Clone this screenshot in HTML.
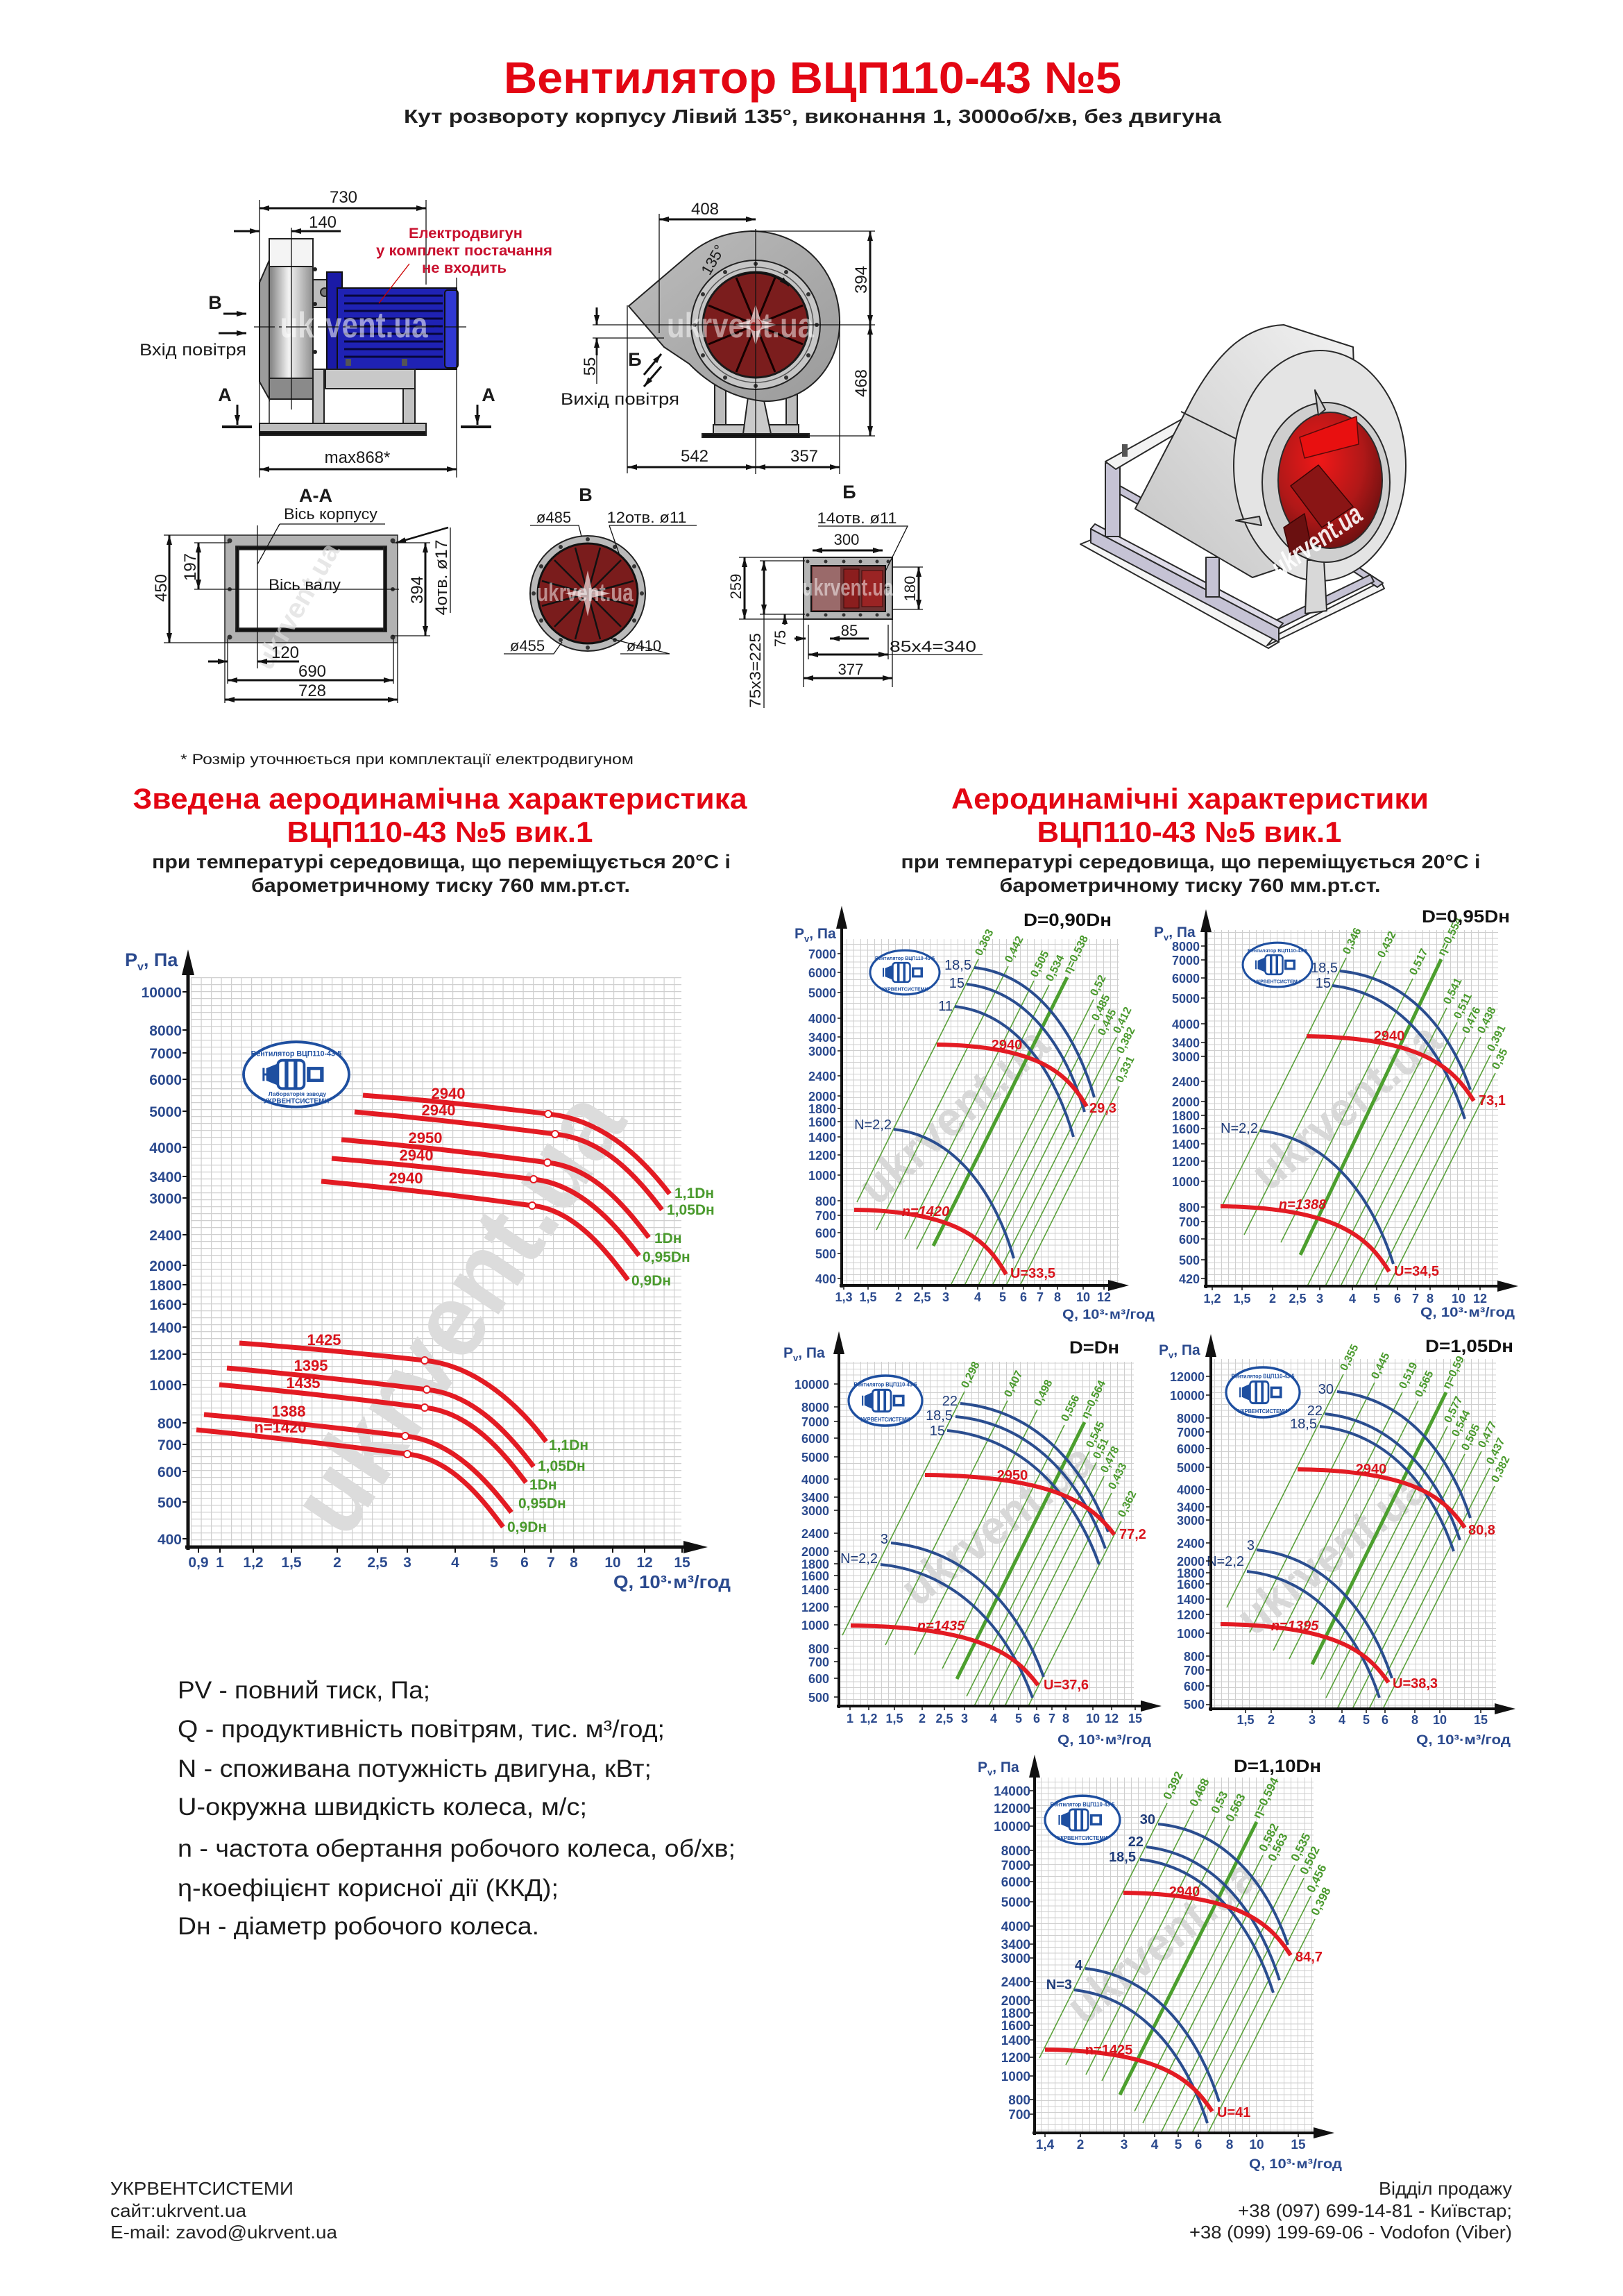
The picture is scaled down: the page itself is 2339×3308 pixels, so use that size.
<!DOCTYPE html>
<html><head><meta charset="utf-8"><title>Вентилятор ВЦП110-43 №5</title>
<style>html,body{margin:0;padding:0;background:#fff}svg{display:block}</style></head>
<body>
<svg xmlns="http://www.w3.org/2000/svg" width="2339" height="3308" viewBox="0 0 2339 3308" font-family="'Liberation Sans', Arial, sans-serif">
<defs>
<marker id="a" viewBox="0 0 14 8" refX="14" refY="4" markerWidth="14" markerHeight="8" markerUnits="userSpaceOnUse" orient="auto-start-reverse"><path d="M0,0L14,4L0,8Z" fill="#111"/></marker>
<pattern id="gB" x="275" y="1408" width="14.5" height="10" patternUnits="userSpaceOnUse"><path d="M0.6,0V10M0,0.6H14.5" stroke="#cfcfcf" stroke-width="1.2" fill="none"/></pattern>
<pattern id="gS" width="10" height="8.5" patternUnits="userSpaceOnUse"><path d="M0.5,0V8.5M0,0.5H10" stroke="#cfcfcf" stroke-width="1" fill="none"/></pattern>
<linearGradient id="gDrum" x1="0" x2="1" y1="0" y2="0"><stop offset="0" stop-color="#7d7d7d"/><stop offset="0.45" stop-color="#f4f4f4"/><stop offset="1" stop-color="#8f8f8f"/></linearGradient>
<linearGradient id="gHous" x1="0" x2="1" y1="0" y2="1"><stop offset="0" stop-color="#bdbdbd"/><stop offset="1" stop-color="#9a9a9a"/></linearGradient>
<linearGradient id="gBand" x1="0" x2="1" y1="1" y2="0"><stop offset="0" stop-color="#c4c4c4"/><stop offset="1" stop-color="#f2f2f2"/></linearGradient>
<radialGradient id="gRed" cx="0.4" cy="0.35" r="0.7"><stop offset="0" stop-color="#f01818"/><stop offset="0.6" stop-color="#b01818"/><stop offset="1" stop-color="#6a1010"/></radialGradient>
</defs>

<!-- ================= HEADER ================= -->
<text x="1171" y="134" font-size="64" font-weight="bold" fill="#e30613" text-anchor="middle" textLength="890" lengthAdjust="spacingAndGlyphs">Вентилятор ВЦП110-43 №5</text>
<text x="1171" y="177" font-size="28" font-weight="bold" fill="#1f1f1f" text-anchor="middle" textLength="1178" lengthAdjust="spacingAndGlyphs">Кут розвороту корпусу Лівий 135°, виконання 1, 3000об/хв, без двигуна</text>

<!-- ================= SIDE VIEW ================= -->
<g stroke="#222" stroke-width="2">
<rect x="388" y="575" width="63" height="35" fill="#fff" stroke-width="1.5"/>
<rect x="388" y="344" width="63" height="40" fill="#f4f4f4"/>
<rect x="388" y="384" width="63" height="161" fill="url(#gDrum)"/>
<rect x="388" y="545" width="63" height="30" fill="#8a8a8a"/>
<polygon points="374,407 388,375 388,575 374,550" fill="#9c9c9c"/>
<rect x="451" y="403" width="34" height="40" fill="#bdbdbd"/>
<circle cx="468" cy="421" r="6" fill="#777"/>
<rect x="471" y="392" width="22" height="140" fill="#1a1aa6" stroke="#111"/>
<rect x="486" y="415" width="172" height="117" fill="#1f22b4" stroke="#111"/>
<rect x="641" y="418" width="19" height="112" rx="4" fill="#3038d2" stroke="#111"/>
<rect x="469" y="532" width="129" height="28" fill="#c8c8c8"/>
<rect x="451" y="532" width="16" height="78" fill="#c2c2c2"/>
<rect x="581" y="560" width="17" height="50" fill="#c2c2c2"/>
<rect x="374" y="610" width="240" height="12" fill="#bdbdbd"/>
<rect x="374" y="622" width="240" height="5" fill="#111"/>
</g>
<path d="M496,426H638M496,437H638M496,448H638M496,459H638M496,470H638M496,481H638M496,492H638M496,503H638M496,514H638" stroke="#07073a" stroke-width="3"/>
<circle cx="454" cy="388" r="3" fill="#222"/><circle cx="454" cy="438" r="3" fill="#222"/><circle cx="454" cy="507" r="3" fill="#222"/>
<rect x="498" y="517" width="8" height="10" fill="#555"/><rect x="579" y="517" width="8" height="10" fill="#555"/>
<text x="510" y="486" font-size="52" font-weight="bold" fill="#fff" fill-opacity="0.55" text-anchor="middle" textLength="213" lengthAdjust="spacingAndGlyphs">ukrvent.ua</text>
<g stroke="#111" stroke-width="1.3" fill="none">
<path d="M374,288V688M614,288V410M658,400V688M420,328V590"/>
<path d="M366,471H678" stroke-dasharray="30,6,4,6"/>
<path d="M590,380L546,437" stroke="#c00"/>
</g>
<g stroke="#111" stroke-width="3" fill="none">
<path d="M374,300H614" marker-start="url(#a)" marker-end="url(#a)"/>
<path d="M337,333H374" marker-end="url(#a)"/><path d="M491,333H420" marker-end="url(#a)"/>
<path d="M374,676H658" marker-start="url(#a)" marker-end="url(#a)"/>
<path d="M322,452H355" marker-end="url(#a)"/><path d="M315,480H355" marker-end="url(#a)"/>
<path d="M342,583V612" marker-end="url(#a)"/><path d="M688,583V612" marker-end="url(#a)"/>
<path d="M320,615H363M664,615H708" stroke-width="4"/>
</g>
<g font-size="24" fill="#1a1a1a" text-anchor="middle">
<text x="495" y="292">730</text>
<text x="465" y="328">140</text>
<text x="515" y="667">max868*</text>
<text x="201" y="512" text-anchor="start" textLength="154" lengthAdjust="spacingAndGlyphs">Вхід повітря</text>
<text x="310" y="445" font-weight="bold" font-size="27">В</text>
<text x="324" y="578" font-weight="bold" font-size="27">А</text>
<text x="704" y="578" font-weight="bold" font-size="27">А</text>
</g>
<g font-size="21" font-weight="bold" fill="#c8102e" text-anchor="middle">
<text x="671" y="343" textLength="164" lengthAdjust="spacingAndGlyphs">Електродвигун</text>
<text x="669" y="368" textLength="254" lengthAdjust="spacingAndGlyphs">у комплект постачання</text>
<text x="669" y="393" textLength="122" lengthAdjust="spacingAndGlyphs">не входить</text>
</g>

<!-- ================= FRONT VIEW ================= -->
<g stroke="#222" stroke-width="2">
<rect x="1030" y="550" width="16" height="62" fill="#bcbcbc"/>
<rect x="1133" y="550" width="16" height="62" fill="#bcbcbc"/>
<rect x="1028" y="612" width="123" height="13" fill="#c8c8c8"/>
<rect x="1012" y="625" width="154" height="5" fill="#111"/>
<polygon points="1078,572 1100,572 1111,625 1071,625" fill="#cacaca"/>
<path d="M906,441 L994,366 Q1030,335 1082,333 C1160,333 1212,395 1210,468 C1208,532 1160,580 1100,578 Q1040,572 993,524 L957,500 Z" fill="url(#gHous)"/>
<circle cx="1089" cy="468" r="93" fill="#c6c6c6"/>
<circle cx="1089" cy="468" r="83" fill="none" stroke="#555" stroke-width="1.5"/>
<circle cx="1089" cy="468" r="76" fill="#7b1d1d" stroke="#1a1a1a" stroke-width="3"/>
</g>
<g fill="#333"><circle cx="1177" cy="468" r="3"/><circle cx="1165" cy="512" r="3"/><circle cx="1133" cy="544" r="3"/><circle cx="1089" cy="556" r="3"/><circle cx="1045" cy="544" r="3"/><circle cx="1013" cy="512" r="3"/><circle cx="1001" cy="468" r="3"/><circle cx="1013" cy="424" r="3"/><circle cx="1045" cy="392" r="3"/><circle cx="1089" cy="380" r="3"/><circle cx="1133" cy="392" r="3"/><circle cx="1165" cy="424" r="3"/></g>
<path d="M1089,468L1157,496M1089,468L1117,536M1089,468L1061,536M1089,468L1021,496M1089,468L1021,440M1089,468L1061,400M1089,468L1117,400M1089,468L1157,440" stroke="#160000" stroke-width="3"/>
<path d="M1089,438L1096,461L1120,468L1096,475L1089,498L1082,475L1058,468L1082,461Z" fill="#e6cccc" fill-opacity="0.85"/>
<circle cx="1089" cy="468" r="9" fill="#a83232"/>
<text x="1067" y="486" font-size="50" font-weight="bold" fill="#fff" fill-opacity="0.5" text-anchor="middle" textLength="212" lengthAdjust="spacingAndGlyphs">ukrvent.ua</text>
<g stroke="#111" stroke-width="1.3" fill="none">
<path d="M950,308V480M1089,330V683M1082,333H1261M854,468H1261M1166,628H1261M854,487H957M904,440V682M1210,463V683M860,487V553"/>
</g>
<g stroke="#111" stroke-width="3" fill="none">
<path d="M950,316H1089" marker-start="url(#a)" marker-end="url(#a)"/>
<path d="M1254,333V468" marker-start="url(#a)" marker-end="url(#a)"/>
<path d="M1254,468V628" marker-start="url(#a)" marker-end="url(#a)"/>
<path d="M860,443V468" marker-end="url(#a)"/><path d="M860,512V487" marker-end="url(#a)"/>
<path d="M904,673H1089" marker-start="url(#a)" marker-end="url(#a)"/>
<path d="M1089,673H1210" marker-start="url(#a)" marker-end="url(#a)"/>
<path d="M928,540L953,510" marker-end="url(#a)"/><path d="M953,528L928,557" marker-end="url(#a)"/>
<path d="M1063,398 A72,72 0 0 1 1137,412" stroke-width="2.5" marker-end="url(#a)"/>
</g>
<g font-size="24" fill="#1a1a1a" text-anchor="middle">
<text x="1016" y="309">408</text>
<text x="1001" y="665">542</text>
<text x="1159" y="665">357</text>
<text transform="translate(1241,403) rotate(-90)" y="8">394</text>
<text transform="translate(1241,552) rotate(-90)" y="8">468</text>
<text transform="translate(850,528) rotate(-90)" y="8">55</text>
<text transform="translate(1034,378) rotate(-60)" font-size="22">135°</text>
<text x="915" y="527" font-weight="bold" font-size="27">Б</text>
<text x="808" y="583" text-anchor="start" textLength="171" lengthAdjust="spacingAndGlyphs">Вихід повітря</text>
</g>

<!-- ================= 3D FAN ================= -->
<g stroke="#2a2a2a" stroke-width="2" stroke-linejoin="round">
<polygon points="1557,784 1572,778 1843,925 1828,934" fill="#f5f5f5"/>
<polygon points="1826,930 1995,848 1990,838 1838,916" fill="#f3f3f3"/>
<polygon points="1915,800 1925,796 1993,840 1985,846" fill="#c6c3d5"/>
<polygon points="1830,898 1975,828 1980,838 1834,910" fill="#c6c3d5"/>
<polygon points="1572,762 1843,905 1843,925 1572,782" fill="#c6c3d5"/>
<polygon points="1572,762 1578,755 1849,898 1843,905" fill="#dedbe8"/>
<rect x="1593" y="667" width="21" height="106" fill="#c6c3d5"/>
<polygon points="1614,700 1700,748 1700,760 1614,712" fill="#c6c3d5"/>
<rect x="1738" y="803" width="19" height="57" fill="#c6c3d5"/>
<polygon points="1593,665 1705,603 1720,610 1608,676" fill="#f3f3f3"/>
<path d="M1636,733 L1719,573 C1760,500 1800,470 1850,468 L1950,500 L1960,780 L1805,832 Z" fill="url(#gBand)"/>
<path d="M1702,593 L1781,632" fill="none"/>
<ellipse cx="1902" cy="671" rx="124" ry="166" fill="#e4e4e4"/>
<polygon points="1884,807 1908,807 1912,880 1881,884" fill="#d8d8d8"/>
<ellipse cx="1911" cy="695" rx="92" ry="115" fill="#cfcfcf"/>
<ellipse cx="1917" cy="692" rx="75" ry="98" fill="url(#gRed)"/>
<polygon points="1873,630 1955,600 1958,640 1880,660" fill="#e81010" stroke="#5a0a0a" stroke-width="1.5"/>
<polygon points="1860,700 1900,670 1950,730 1905,760" fill="#8a1515" stroke="#3a0505" stroke-width="1.5"/>
<polygon points="1850,760 1880,740 1890,790 1860,800" fill="#6a1010" stroke="#3a0505" stroke-width="1.5"/>
<polygon points="1895,562 1900,598 1910,590" fill="#cfcfcf"/>
<polygon points="1781,750 1815,744 1818,757" fill="#cfcfcf"/>
<rect x="1617" y="640" width="8" height="18" fill="#555" stroke="none"/>
</g>
<text transform="translate(1905,790) rotate(-35)" font-size="40" font-weight="bold" font-style="italic" fill="#fff" fill-opacity="0.9" text-anchor="middle" textLength="150" lengthAdjust="spacingAndGlyphs">ukrvent.ua</text>

<!-- ================= SECTION A-A ================= -->
<g stroke="#222" stroke-width="1.5">
<rect x="324" y="771" width="249" height="155" fill="#b2b2b2"/>
<rect x="340" y="787" width="217" height="123" fill="#fff"/>
<rect x="340" y="787" width="217" height="5" fill="#111"/>
<rect x="340" y="905" width="217" height="5" fill="#111"/>
<rect x="340" y="787" width="4" height="123" fill="#111"/>
<rect x="553" y="787" width="4" height="123" fill="#111"/>
</g>
<g fill="#333"><circle cx="331" cy="779" r="3.5"/><circle cx="566" cy="779" r="3.5"/><circle cx="331" cy="918" r="3.5"/><circle cx="566" cy="918" r="3.5"/><circle cx="331" cy="849" r="3"/><circle cx="566" cy="849" r="3"/></g>
<text transform="translate(440,880) rotate(-60)" font-size="40" font-weight="bold" fill="#ddd" fill-opacity="0.7" text-anchor="middle">ukrvent.ua</text>
<g stroke="#111" stroke-width="1.3" fill="none">
<path d="M236,771H324M236,926H324M280,782H330M565,782H620M565,916H620M280,849H575M371,757V963M403,755H555M403,755L371,813M649,760V883M324,926V1013M573,926V1013M328,920V985M567,920V985"/>
</g>
<g stroke="#111" stroke-width="3" fill="none">
<path d="M244,771V926" marker-start="url(#a)" marker-end="url(#a)"/>
<path d="M286,782V849" marker-start="url(#a)" marker-end="url(#a)"/>
<path d="M613,782V916" marker-start="url(#a)" marker-end="url(#a)"/>
<path d="M646,760L571,782" stroke-width="2.5" marker-end="url(#a)"/>
<path d="M300,953H328" marker-end="url(#a)"/><path d="M431,953H371" marker-end="url(#a)"/>
<path d="M328,980H567" marker-start="url(#a)" marker-end="url(#a)"/>
<path d="M324,1008H573" marker-start="url(#a)" marker-end="url(#a)"/>
</g>
<g font-size="24" fill="#1a1a1a" text-anchor="middle">
<text x="455" y="723" font-weight="bold" font-size="27">А-А</text>
<text x="409" y="748" font-size="22" text-anchor="start" textLength="135" lengthAdjust="spacingAndGlyphs">Вісь корпусу</text>
<text x="387" y="850" font-size="22" text-anchor="start" textLength="104" lengthAdjust="spacingAndGlyphs">Вісь валу</text>
<text transform="translate(232,847) rotate(-90)" y="8">450</text>
<text transform="translate(274,817) rotate(-90)" y="8">197</text>
<text transform="translate(601,850) rotate(-90)" y="8">394</text>
<text transform="translate(636,832) rotate(-90)" y="8" textLength="109" lengthAdjust="spacingAndGlyphs">4отв. ø17</text>
<text x="411" y="948">120</text>
<text x="450" y="975">690</text>
<text x="450" y="1003">728</text>
</g>

<!-- ================= VIEW B ================= -->
<circle cx="847" cy="855" r="83" fill="#bababa" stroke="#222" stroke-width="2"/>
<circle cx="847" cy="855" r="72" fill="#7a1c1c" stroke="#111" stroke-width="3"/>
<path d="M847,855L913,873M847,855L895,903M847,855L865,921M847,855L829,921M847,855L799,903M847,855L781,873M847,855L781,837M847,855L799,807M847,855L829,789M847,855L865,789M847,855L895,807M847,855L913,837" stroke="#111" stroke-width="2.5"/>
<path d="M847,822L853,849L880,855L853,861L847,888L841,861L814,855L841,849Z" fill="#e6cccc" fill-opacity="0.8"/>
<g fill="#333"><circle cx="925" cy="855" r="3"/><circle cx="914" cy="894" r="3"/><circle cx="886" cy="922" r="3"/><circle cx="847" cy="933" r="3"/><circle cx="808" cy="922" r="3"/><circle cx="780" cy="894" r="3"/><circle cx="769" cy="855" r="3"/><circle cx="780" cy="816" r="3"/><circle cx="808" cy="788" r="3"/><circle cx="847" cy="777" r="3"/><circle cx="886" cy="788" r="3"/><circle cx="914" cy="816" r="3"/></g>
<text x="843" y="866" font-size="36" font-weight="bold" fill="#fff" fill-opacity="0.5" text-anchor="middle" textLength="139" lengthAdjust="spacingAndGlyphs">ukrvent.ua</text>
<g stroke="#111" stroke-width="1.3" fill="none"><path d="M764,757H834L838,773M878,757H1004M878,757L893,800M726,942H798L810,925M894,942H965L880,920"/></g>
<g font-size="22" fill="#1a1a1a" text-anchor="middle">
<text x="844" y="722" font-weight="bold" font-size="27">В</text>
<text x="798" y="753">ø485</text>
<text x="932" y="753" textLength="115" lengthAdjust="spacingAndGlyphs">12отв. ø11</text>
<text x="760" y="938">ø455</text>
<text x="928" y="938">ø410</text>
</g>

<!-- ================= VIEW Б ================= -->
<rect x="1158" y="803" width="128" height="89" fill="#b5b5b5" stroke="#222" stroke-width="2"/>
<rect x="1169" y="815" width="107" height="66" fill="#6e3232" stroke="#111" stroke-width="2"/>
<rect x="1171" y="817" width="40" height="62" fill="#9a6a6a"/>
<rect x="1216" y="820" width="22" height="56" fill="#8b1e1e" stroke="#3a0a0a"/>
<rect x="1242" y="822" width="30" height="52" fill="#9a2424" stroke="#3a0a0a"/>
<g fill="#333"><circle cx="1164" cy="809" r="2.5"/><circle cx="1190" cy="809" r="2.5"/><circle cx="1216" cy="809" r="2.5"/><circle cx="1240" cy="809" r="2.5"/><circle cx="1264" cy="809" r="2.5"/><circle cx="1280" cy="809" r="2.5"/><circle cx="1164" cy="886" r="2.5"/><circle cx="1190" cy="886" r="2.5"/><circle cx="1216" cy="886" r="2.5"/><circle cx="1240" cy="886" r="2.5"/><circle cx="1264" cy="886" r="2.5"/><circle cx="1280" cy="886" r="2.5"/><circle cx="1164" cy="848" r="2.5"/><circle cx="1280" cy="848" r="2.5"/></g>
<text x="1222" y="858" font-size="34" font-weight="bold" fill="#fff" fill-opacity="0.5" text-anchor="middle" textLength="131" lengthAdjust="spacingAndGlyphs">ukrvent.ua</text>
<g stroke="#111" stroke-width="1.3" fill="none"><path d="M1179,758H1308L1276,823M1065,803H1158M1065,892H1158M1286,817H1330M1286,878H1330M1095,808H1160M1095,885H1160M1158,892V990M1286,892V990M1165,900V950M1280,900V950M1280,943H1416M1101,885V1020"/></g>
<g stroke="#111" stroke-width="3" fill="none">
<path d="M1171,793H1272" marker-start="url(#a)" marker-end="url(#a)"/>
<path d="M1073,803V892" marker-start="url(#a)" marker-end="url(#a)"/>
<path d="M1324,817V878" marker-start="url(#a)" marker-end="url(#a)"/>
<path d="M1101,808V885" marker-start="url(#a)" marker-end="url(#a)"/>
<path d="M1131,900V885" marker-end="url(#a)"/>
<path d="M1145,920H1161" marker-end="url(#a)"/><path d="M1252,920H1196" marker-end="url(#a)"/>
<path d="M1165,943H1280" marker-start="url(#a)" marker-end="url(#a)"/>
<path d="M1158,977H1286" marker-start="url(#a)" marker-end="url(#a)"/>
</g>
<g font-size="22" fill="#1a1a1a" text-anchor="middle">
<text x="1224" y="718" font-weight="bold" font-size="27">Б</text>
<text x="1235" y="754" textLength="115" lengthAdjust="spacingAndGlyphs">14отв. ø11</text>
<text x="1220" y="785">300</text>
<text transform="translate(1060,845) rotate(-90)" y="8">259</text>
<text transform="translate(1311,848) rotate(-90)" y="8">180</text>
<text transform="translate(1088,966) rotate(-90)" y="8" textLength="108" lengthAdjust="spacingAndGlyphs">75x3=225</text>
<text transform="translate(1124,920) rotate(-90)" y="8">75</text>
<text x="1224" y="916">85</text>
<text x="1282" y="939" text-anchor="start" textLength="125" lengthAdjust="spacingAndGlyphs">85x4=340</text>
<text x="1226" y="972">377</text>
</g>

<text x="260" y="1101" font-size="21" fill="#1a1a1a" textLength="653" lengthAdjust="spacingAndGlyphs">* Розмір уточнюється при комплектації електродвигуном</text>

<!-- ================= SECTION TITLES ================= -->
<g font-weight="bold" text-anchor="middle">
<text x="634" y="1165" font-size="42" fill="#e30613" textLength="885" lengthAdjust="spacingAndGlyphs">Зведена аеродинамічна характеристика</text>
<text x="634" y="1213" font-size="42" fill="#e30613" textLength="441" lengthAdjust="spacingAndGlyphs">ВЦП110-43 №5 вик.1</text>
<text x="636" y="1251" font-size="28" fill="#1f1f1f" textLength="834" lengthAdjust="spacingAndGlyphs">при температурі середовища, що переміщується 20°С і</text>
<text x="635" y="1285" font-size="28" fill="#1f1f1f" textLength="546" lengthAdjust="spacingAndGlyphs">барометричному тиску 760 мм.рт.ст.</text>
<text x="1715" y="1165" font-size="42" fill="#e30613" textLength="688" lengthAdjust="spacingAndGlyphs">Аеродинамічні характеристики</text>
<text x="1714" y="1213" font-size="42" fill="#e30613" textLength="439" lengthAdjust="spacingAndGlyphs">ВЦП110-43 №5 вик.1</text>
<text x="1716" y="1251" font-size="28" fill="#1f1f1f" textLength="835" lengthAdjust="spacingAndGlyphs">при температурі середовища, що переміщується 20°С і</text>
<text x="1715" y="1285" font-size="28" fill="#1f1f1f" textLength="549" lengthAdjust="spacingAndGlyphs">барометричному тиску 760 мм.рт.ст.</text>
</g>

<!-- ================= BIG CHART ================= -->
<rect x="275" y="1408" width="707" height="821" fill="url(#gB)"/>
<text transform="translate(660,1891) rotate(-56)" font-size="150" font-weight="bold" fill="#dcdcdc" text-anchor="middle" y="50" textLength="730" lengthAdjust="spacingAndGlyphs">ukrvent.ua</text>
<g transform="translate(427,1548) scale(0.76,0.78)">
<ellipse rx="100" ry="60" fill="#fff" stroke="#1e4fa0" stroke-width="5"/>
<path d="M-62,-12V12M-62,0H-55M-55,-10L-35,-18V18L-55,10Z" fill="#1e4fa0" stroke="#1e4fa0" stroke-width="4"/>
<rect x="-35" y="-26" width="50" height="52" rx="8" fill="#fff" stroke="#1e4fa0" stroke-width="5"/>
<rect x="-22" y="-26" width="7" height="52" fill="#1e4fa0"/><rect x="-5" y="-26" width="7" height="52" fill="#1e4fa0"/>
<rect x="20" y="-14" width="32" height="28" fill="#1e4fa0"/><rect x="27" y="-8" width="18" height="16" fill="#fff"/>
<text x="0" y="-34" font-size="14" font-weight="bold" fill="#1e4fa0" text-anchor="middle">Вентилятор ВЦП110-43-5</text>
<text x="2" y="40" font-size="11" font-weight="bold" fill="#1e4fa0" text-anchor="middle">Лабораторія заводу</text>
<text x="0" y="53" font-size="13" font-weight="bold" fill="#1e4fa0" text-anchor="middle">УКРВЕНТСИСТЕМИ</text>
</g>
<g fill="none" stroke="#e31b23" stroke-width="7" stroke-linecap="butt">
<path d="M523,1578 Q657,1588 790,1605 C869,1613 925,1668 965,1720"/>
<path d="M511,1602 Q655,1615 800,1634 C869,1641 916,1693 954,1743"/>
<path d="M492,1642 Q640,1655 789,1675 C855,1682 900,1737 935,1783"/>
<path d="M478,1669 Q623,1681 769,1699 C836,1706 886,1763 921,1809"/>
<path d="M463,1702 Q614,1716 767,1737 C827,1743 872,1800 905,1844"/>
<path d="M345,1935 Q478,1945 612,1960 C690,1968 752,2030 787,2077"/>
<path d="M327,1971 Q470,1984 615,2002 C684,2009 735,2068 769,2113"/>
<path d="M316,1995 Q463,2009 612,2028 C678,2035 725,2092 758,2136"/>
<path d="M294,2038 Q438,2051 584,2069 C653,2076 703,2135 737,2179"/>
<path d="M283,2060 Q434,2075 587,2095 C649,2101 694,2158 725,2200"/>
</g>
<g fill="#fff" stroke="#e31b23" stroke-width="2"><circle cx="790" cy="1605" r="5"/><circle cx="800" cy="1634" r="5"/><circle cx="789" cy="1675" r="5"/><circle cx="769" cy="1699" r="5"/><circle cx="767" cy="1737" r="5"/><circle cx="612" cy="1960" r="5"/><circle cx="615" cy="2002" r="5"/><circle cx="612" cy="2028" r="5"/><circle cx="584" cy="2069" r="5"/><circle cx="587" cy="2095" r="5"/></g>
<g font-size="22" font-weight="bold" fill="#d9141c" text-anchor="middle">
<text x="646" y="1583">2940</text><text x="632" y="1607">2940</text><text x="613" y="1647">2950</text><text x="600" y="1672">2940</text><text x="585" y="1705">2940</text>
<text x="467" y="1938">1425</text><text x="448" y="1975">1395</text><text x="437" y="2000">1435</text><text x="416" y="2041">1388</text><text x="404" y="2064">n=1420</text>
</g>
<g font-size="21" font-weight="bold" fill="#4a9a2d">
<text x="972" y="1726">1,1Dн</text><text x="961" y="1750">1,05Dн</text><text x="943" y="1791">1Dн</text><text x="926" y="1818">0,95Dн</text><text x="910" y="1852">0,9Dн</text>
<text x="791" y="2089">1,1Dн</text><text x="775" y="2119">1,05Dн</text><text x="763" y="2146">1Dн</text><text x="747" y="2173">0,95Dн</text><text x="731" y="2207">0,9Dн</text>
</g>
<path d="M271,2233V1400M267,2229H990" stroke="#111" stroke-width="5" fill="none"/>
<polygon points="271,1368 262,1405 280,1405" fill="#111"/>
<polygon points="1020,2229 985,2220 985,2238" fill="#111"/>
<path d="M263,1429h8M263,1484h8M263,1517h8M263,1555h8M263,1601h8M263,1653h8M263,1695h8M263,1726h8M263,1779h8M263,1823h8M263,1851h8M263,1879h8M263,1912h8M263,1951h8M263,1995h8M263,2050h8M263,2081h8M263,2120h8M263,2164h8M263,2217h8M286,2229v8M317,2229v8M365,2229v8M420,2229v8M486,2229v8M544,2229v8M587,2229v8M656,2229v8M712,2229v8M756,2229v8M794,2229v8M827,2229v8M883,2229v8M929,2229v8M983,2229v8" stroke="#111" stroke-width="2"/>
<g font-size="21" font-weight="bold" fill="#2b4a8e" text-anchor="end">
<text x="262" y="1437">10000</text><text x="262" y="1492">8000</text><text x="262" y="1525">7000</text><text x="262" y="1563">6000</text><text x="262" y="1609">5000</text><text x="262" y="1661">4000</text><text x="262" y="1703">3400</text><text x="262" y="1734">3000</text><text x="262" y="1787">2400</text><text x="262" y="1831">2000</text><text x="262" y="1859">1800</text><text x="262" y="1887">1600</text><text x="262" y="1920">1400</text><text x="262" y="1959">1200</text><text x="262" y="2003">1000</text><text x="262" y="2058">800</text><text x="262" y="2089">700</text><text x="262" y="2128">600</text><text x="262" y="2172">500</text><text x="262" y="2225">400</text>
</g>
<g font-size="21" font-weight="bold" fill="#2b4a8e" text-anchor="middle">
<text x="286" y="2258">0,9</text><text x="317" y="2258">1</text><text x="365" y="2258">1,2</text><text x="420" y="2258">1,5</text><text x="486" y="2258">2</text><text x="544" y="2258">2,5</text><text x="587" y="2258">3</text><text x="656" y="2258">4</text><text x="712" y="2258">5</text><text x="756" y="2258">6</text><text x="794" y="2258">7</text><text x="827" y="2258">8</text><text x="883" y="2258">10</text><text x="929" y="2258">12</text><text x="983" y="2258">15</text>
</g>
<text x="180" y="1392" font-size="27" font-weight="bold" fill="#2b4a8e">P<tspan font-size="16" dy="6">v</tspan><tspan dy="-6">, Па</tspan></text>
<text x="884" y="2288" font-size="26" font-weight="bold" fill="#2b4a8e" textLength="169" lengthAdjust="spacingAndGlyphs">Q, 10³·м³/год</text>

<!-- ================= LEGEND ================= -->
<g font-size="35" fill="#1a1a1a" lengthAdjust="spacingAndGlyphs">
<text x="256" y="2447" textLength="364" lengthAdjust="spacingAndGlyphs">PV - повний тиск, Па;</text>
<text x="256" y="2503" textLength="702" lengthAdjust="spacingAndGlyphs">Q - продуктивність повітрям, тис. м³/год;</text>
<text x="256" y="2560" textLength="683" lengthAdjust="spacingAndGlyphs">N - споживана потужність двигуна, кВт;</text>
<text x="256" y="2615" textLength="590" lengthAdjust="spacingAndGlyphs">U-окружна швидкість колеса, м/с;</text>
<text x="256" y="2675" textLength="804" lengthAdjust="spacingAndGlyphs">n - частота обертання робочого колеса, об/хв;</text>
<text x="256" y="2732" textLength="549" lengthAdjust="spacingAndGlyphs">η-коефіцієнт корисної дії (ККД);</text>
<text x="256" y="2787" textLength="521" lengthAdjust="spacingAndGlyphs">Dн - діаметр робочого колеса.</text>
</g>

<!-- ================= CHART 1 (D=0,90Dн) ================= -->
<rect x="1215" y="1353" width="398" height="499" fill="url(#gS)"/>
<text transform="translate(1390,1625) rotate(-42)" font-size="70" font-weight="bold" fill="#d8d8d8" text-anchor="middle" textLength="340" lengthAdjust="spacingAndGlyphs">ukrvent.ua</text>
<g stroke="#5aa13a" stroke-width="1.6" fill="none">
<path d="M1410,1382L1235,1732M1453,1392L1263,1772M1490,1413L1304,1785M1512,1419L1321,1800M1576,1440L1370,1852M1578,1476L1390,1852M1587,1497L1410,1852M1609,1494L1430,1852M1614,1523L1450,1852M1613,1565L1470,1852"/>
<path d="M1538,1408L1345,1795" stroke="#4c9f2e" stroke-width="5"/>
</g>
<g font-size="16" font-weight="bold" fill="#4a9a2d">
<text transform="translate(1414,1378) rotate(-63.4)">0,363</text><text transform="translate(1457,1388) rotate(-63.4)">0,442</text><text transform="translate(1494,1409) rotate(-63.4)">0,505</text><text transform="translate(1516,1415) rotate(-63.4)">0,534</text><text transform="translate(1542,1404) rotate(-63.4)">η=0,538</text><text transform="translate(1580,1436) rotate(-63.4)">0,52</text><text transform="translate(1582,1472) rotate(-63.4)">0,485</text><text transform="translate(1591,1493) rotate(-63.4)">0,445</text><text transform="translate(1613,1490) rotate(-63.4)">0,412</text><text transform="translate(1618,1519) rotate(-63.4)">0,382</text><text transform="translate(1617,1561) rotate(-63.4)">0,331</text>
</g>
<g fill="none" stroke="#2a4d8f" stroke-width="4">
<path d="M1404,1394 C1499,1405 1553,1497 1577,1581"/><path d="M1393,1418 C1487,1429 1539,1519 1563,1602"/><path d="M1376,1450 C1470,1461 1523,1553 1547,1638"/><path d="M1288,1627 C1383,1638 1437,1729 1461,1813"/>
</g>
<g fill="none" stroke="#e31b23" stroke-width="6">
<path d="M1350,1505 C1501,1507 1540,1550 1566,1594"/><path d="M1231,1743 C1384,1745 1424,1790 1450,1836"/>
</g>
<g font-size="20" fill="#1f3c7a" text-anchor="end"><text x="1400" y="1397">18,5</text><text x="1390" y="1423">15</text><text x="1373" y="1456">11</text><text x="1285" y="1627">N=2,2</text></g>
<g font-size="20" font-weight="bold" fill="#d9141c"><text x="1451" y="1512" text-anchor="middle">2940</text><text x="1570" y="1603">29,3</text><text x="1334" y="1752" text-anchor="middle" font-style="italic">n=1420</text><text x="1456" y="1841">U=33,5</text></g>
<g transform="translate(1304,1401) scale(0.5,0.53)">
<ellipse rx="100" ry="60" fill="#fff" stroke="#1e4fa0" stroke-width="6"/>
<path d="M-62,-12V12M-55,-10L-35,-18V18L-55,10Z" fill="#1e4fa0" stroke="#1e4fa0" stroke-width="4"/>
<rect x="-35" y="-26" width="50" height="52" rx="8" fill="#fff" stroke="#1e4fa0" stroke-width="5"/>
<rect x="-22" y="-26" width="7" height="52" fill="#1e4fa0"/><rect x="-5" y="-26" width="7" height="52" fill="#1e4fa0"/>
<rect x="20" y="-14" width="32" height="28" fill="#1e4fa0"/><rect x="27" y="-8" width="18" height="16" fill="#fff"/>
<text x="0" y="-34" font-size="14" font-weight="bold" fill="#1e4fa0" text-anchor="middle">Вентилятор ВЦП110-43-5</text>
<text x="0" y="50" font-size="14" font-weight="bold" fill="#1e4fa0" text-anchor="middle">УКРВЕНТСИСТЕМИ</text>
</g>
<path d="M1213,1855V1335M1210,1852H1600" stroke="#111" stroke-width="4" fill="none"/>
<polygon points="1213,1305 1205,1338 1221,1338" fill="#111"/><polygon points="1627,1852 1597,1844 1597,1860" fill="#111"/>
<path d="M1207,1374h6M1207,1401h6M1207,1430h6M1207,1467h6M1207,1494h6M1207,1514h6M1207,1550h6M1207,1579h6M1207,1597h6M1207,1616h6M1207,1638h6M1207,1664h6M1207,1693h6M1207,1730h6M1207,1751h6M1207,1776h6M1207,1806h6M1207,1842h6M1216,1852v6M1251,1852v6M1295,1852v6M1329,1852v6M1363,1852v6M1409,1852v6M1445,1852v6M1475,1852v6M1499,1852v6M1524,1852v6M1561,1852v6M1591,1852v6" stroke="#111" stroke-width="1.5"/>
<g font-size="18" font-weight="bold" fill="#2b4a8e" text-anchor="end">
<text x="1205" y="1381">7000</text><text x="1205" y="1408">6000</text><text x="1205" y="1437">5000</text><text x="1205" y="1474">4000</text><text x="1205" y="1501">3400</text><text x="1205" y="1521">3000</text><text x="1205" y="1557">2400</text><text x="1205" y="1586">2000</text><text x="1205" y="1604">1800</text><text x="1205" y="1623">1600</text><text x="1205" y="1645">1400</text><text x="1205" y="1671">1200</text><text x="1205" y="1700">1000</text><text x="1205" y="1737">800</text><text x="1205" y="1758">700</text><text x="1205" y="1783">600</text><text x="1205" y="1813">500</text><text x="1205" y="1849">400</text>
</g>
<g font-size="18" font-weight="bold" fill="#2b4a8e" text-anchor="middle">
<text x="1216" y="1875">1,3</text><text x="1251" y="1875">1,5</text><text x="1295" y="1875">2</text><text x="1329" y="1875">2,5</text><text x="1363" y="1875">3</text><text x="1409" y="1875">4</text><text x="1445" y="1875">5</text><text x="1475" y="1875">6</text><text x="1499" y="1875">7</text><text x="1524" y="1875">8</text><text x="1561" y="1875">10</text><text x="1591" y="1875">12</text>
</g>
<text x="1145" y="1352" font-size="21" font-weight="bold" fill="#2b4a8e">P<tspan font-size="13" dy="5">v</tspan><tspan dy="-5">, Па</tspan></text>
<text x="1531" y="1900" font-size="19" font-weight="bold" fill="#2b4a8e" textLength="133" lengthAdjust="spacingAndGlyphs">Q, 10³·м³/год</text>
<text x="1475" y="1334" font-size="25" font-weight="bold" fill="#111" textLength="127" lengthAdjust="spacingAndGlyphs">D=0,90Dн</text>

<!-- ================= CHART 2 (D=0,95Dн) ================= -->
<rect x="1740" y="1340" width="419" height="513" fill="url(#gS)"/>
<text transform="translate(1955,1612) rotate(-40)" font-size="70" font-weight="bold" fill="#d8d8d8" text-anchor="middle" textLength="330" lengthAdjust="spacingAndGlyphs">ukrvent.ua</text>
<g stroke="#5aa13a" stroke-width="1.6" fill="none">
<path d="M1940,1380L1760,1740M1990,1385L1793,1779M2036,1410L1846,1790M2085,1452L1884,1853M2100,1473L1910,1853M2112,1494L1932,1853M2134,1494L1954,1853M2148,1520L1981,1853M2155,1546L2001,1853"/>
<path d="M2077,1382L1874,1808" stroke="#4c9f2e" stroke-width="5"/>
</g>
<g font-size="16" font-weight="bold" fill="#4a9a2d">
<text transform="translate(1944,1376) rotate(-63.4)">0,346</text><text transform="translate(1994,1381) rotate(-63.4)">0,432</text><text transform="translate(2040,1406) rotate(-63.4)">0,517</text><text transform="translate(2081,1378) rotate(-63.4)">η=0,554</text><text transform="translate(2089,1448) rotate(-63.4)">0,541</text><text transform="translate(2104,1469) rotate(-63.4)">0,511</text><text transform="translate(2116,1490) rotate(-63.4)">0,476</text><text transform="translate(2138,1490) rotate(-63.4)">0,438</text><text transform="translate(2152,1516) rotate(-63.4)">0,391</text><text transform="translate(2159,1542) rotate(-63.4)">0,35</text>
</g>
<g fill="none" stroke="#2a4d8f" stroke-width="4">
<path d="M1931,1399 C2034,1409 2093,1493 2119,1570"/><path d="M1920,1420 C2025,1432 2084,1526 2111,1612"/><path d="M1816,1629 C1922,1641 1981,1735 2008,1821"/>
</g>
<g fill="none" stroke="#e31b23" stroke-width="6">
<path d="M1883,1493 C2052,1495 2095,1540 2124,1586"/><path d="M1759,1738 C1929,1740 1973,1785 2002,1832"/>
</g>
<g font-size="20" fill="#1f3c7a" text-anchor="end"><text x="1928" y="1401">18,5</text><text x="1918" y="1423">15</text><text x="1813" y="1632">N=2,2</text></g>
<g font-size="20" font-weight="bold" fill="#d9141c"><text x="2002" y="1499" text-anchor="middle">2940</text><text x="2131" y="1592">73,1</text><text x="1877" y="1742" text-anchor="middle" font-style="italic">n=1388</text><text x="2009" y="1838">U=34,5</text></g>
<g transform="translate(1841,1390) scale(0.5,0.53)">
<ellipse rx="100" ry="60" fill="#fff" stroke="#1e4fa0" stroke-width="6"/>
<path d="M-62,-12V12M-55,-10L-35,-18V18L-55,10Z" fill="#1e4fa0" stroke="#1e4fa0" stroke-width="4"/>
<rect x="-35" y="-26" width="50" height="52" rx="8" fill="#fff" stroke="#1e4fa0" stroke-width="5"/>
<rect x="-22" y="-26" width="7" height="52" fill="#1e4fa0"/><rect x="-5" y="-26" width="7" height="52" fill="#1e4fa0"/>
<rect x="20" y="-14" width="32" height="28" fill="#1e4fa0"/><rect x="27" y="-8" width="18" height="16" fill="#fff"/>
<text x="0" y="-34" font-size="14" font-weight="bold" fill="#1e4fa0" text-anchor="middle">Вентилятор ВЦП110-43-5</text>
<text x="0" y="50" font-size="14" font-weight="bold" fill="#1e4fa0" text-anchor="middle">УКРВЕНТСИСТЕМИ</text>
</g>
<path d="M1738,1856V1340M1735,1853H2160" stroke="#111" stroke-width="4" fill="none"/>
<polygon points="1738,1310 1730,1343 1746,1343" fill="#111"/><polygon points="2188,1853 2158,1845 2158,1861" fill="#111"/>
<path d="M1731,1363h7M1731,1383h7M1731,1409h7M1731,1438h7M1731,1475h7M1731,1502h7M1731,1522h7M1731,1558h7M1731,1587h7M1731,1607h7M1731,1626h7M1731,1648h7M1731,1673h7M1731,1702h7M1731,1739h7M1731,1760h7M1731,1785h7M1731,1815h7M1731,1842h7M1747,1853v6M1790,1853v6M1834,1853v6M1870,1853v6M1902,1853v6M1949,1853v6M1984,1853v6M2014,1853v6M2040,1853v6M2061,1853v6M2102,1853v6M2133,1853v6" stroke="#111" stroke-width="1.5"/>
<g font-size="18" font-weight="bold" fill="#2b4a8e" text-anchor="end">
<text x="1729" y="1370">8000</text><text x="1729" y="1390">7000</text><text x="1729" y="1416">6000</text><text x="1729" y="1445">5000</text><text x="1729" y="1482">4000</text><text x="1729" y="1509">3400</text><text x="1729" y="1529">3000</text><text x="1729" y="1565">2400</text><text x="1729" y="1594">2000</text><text x="1729" y="1614">1800</text><text x="1729" y="1633">1600</text><text x="1729" y="1655">1400</text><text x="1729" y="1680">1200</text><text x="1729" y="1709">1000</text><text x="1729" y="1746">800</text><text x="1729" y="1767">700</text><text x="1729" y="1792">600</text><text x="1729" y="1822">500</text><text x="1729" y="1849">420</text>
</g>
<g font-size="18" font-weight="bold" fill="#2b4a8e" text-anchor="middle">
<text x="1747" y="1877">1,2</text><text x="1790" y="1877">1,5</text><text x="1834" y="1877">2</text><text x="1870" y="1877">2,5</text><text x="1902" y="1877">3</text><text x="1949" y="1877">4</text><text x="1984" y="1877">5</text><text x="2014" y="1877">6</text><text x="2040" y="1877">7</text><text x="2061" y="1877">8</text><text x="2102" y="1877">10</text><text x="2133" y="1877">12</text>
</g>
<text x="1663" y="1350" font-size="21" font-weight="bold" fill="#2b4a8e">P<tspan font-size="13" dy="5">v</tspan><tspan dy="-5">, Па</tspan></text>
<text x="2047" y="1897" font-size="19" font-weight="bold" fill="#2b4a8e" textLength="136" lengthAdjust="spacingAndGlyphs">Q, 10³·м³/год</text>
<text x="2049" y="1329" font-size="25" font-weight="bold" fill="#111" textLength="127" lengthAdjust="spacingAndGlyphs">D=0,95Dн</text>

<!-- ================= CHART 3 (D=Dн) ================= -->
<rect x="1211" y="1962" width="423" height="496" fill="url(#gS)"/>
<text transform="translate(1452,2215) rotate(-38)" font-size="70" font-weight="bold" fill="#d8d8d8" text-anchor="middle" textLength="330" lengthAdjust="spacingAndGlyphs">ukrvent.ua</text>
<g stroke="#5aa13a" stroke-width="1.6" fill="none">
<path d="M1390,2005L1214,2356M1452,2018L1276,2370M1495,2031L1318,2384M1534,2053L1358,2404M1570,2091L1393,2444M1580,2107L1404,2458M1591,2127L1425,2458M1602,2151L1448,2458M1616,2191L1482,2458"/>
<path d="M1563,2049L1379,2419" stroke="#4c9f2e" stroke-width="5"/>
</g>
<g font-size="16" font-weight="bold" fill="#4a9a2d">
<text transform="translate(1394,2001) rotate(-63.4)">0,298</text><text transform="translate(1456,2014) rotate(-63.4)">0,407</text><text transform="translate(1499,2027) rotate(-63.4)">0,498</text><text transform="translate(1538,2049) rotate(-63.4)">0,556</text><text transform="translate(1567,2045) rotate(-63.4)">η=0,564</text><text transform="translate(1574,2087) rotate(-63.4)">0,545</text><text transform="translate(1584,2103) rotate(-63.4)">0,51</text><text transform="translate(1595,2123) rotate(-63.4)">0,478</text><text transform="translate(1606,2147) rotate(-63.4)">0,433</text><text transform="translate(1620,2187) rotate(-63.4)">0,362</text>
</g>
<g fill="none" stroke="#2a4d8f" stroke-width="4">
<path d="M1384,2022 C1501,2033 1567,2124 1597,2207"/><path d="M1377,2041 C1496,2052 1563,2146 1593,2231"/><path d="M1365,2061 C1485,2073 1553,2167 1584,2254"/><path d="M1284,2223 C1405,2235 1473,2329 1504,2416"/><path d="M1269,2254 C1389,2266 1457,2360 1488,2446"/>
</g>
<g fill="none" stroke="#e31b23" stroke-width="6">
<path d="M1333,2125 C1524,2127 1573,2168 1606,2211"/><path d="M1226,2342 C1415,2344 1464,2385 1496,2428"/>
</g>
<g font-size="20" fill="#1f3c7a" text-anchor="end"><text x="1380" y="2025">22</text><text x="1373" y="2046">18,5</text><text x="1362" y="2068">15</text><text x="1280" y="2224">3</text><text x="1265" y="2252">N=2,2</text></g>
<g font-size="20" font-weight="bold" fill="#d9141c"><text x="1459" y="2132" text-anchor="middle">2950</text><text x="1613" y="2217">77,2</text><text x="1356" y="2349" text-anchor="middle" font-style="italic">n=1435</text><text x="1504" y="2434">U=37,6</text></g>
<g transform="translate(1276,2018) scale(0.53,0.6)">
<ellipse rx="100" ry="60" fill="#fff" stroke="#1e4fa0" stroke-width="6"/>
<path d="M-62,-12V12M-55,-10L-35,-18V18L-55,10Z" fill="#1e4fa0" stroke="#1e4fa0" stroke-width="4"/>
<rect x="-35" y="-26" width="50" height="52" rx="8" fill="#fff" stroke="#1e4fa0" stroke-width="5"/>
<rect x="-22" y="-26" width="7" height="52" fill="#1e4fa0"/><rect x="-5" y="-26" width="7" height="52" fill="#1e4fa0"/>
<rect x="20" y="-14" width="32" height="28" fill="#1e4fa0"/><rect x="27" y="-8" width="18" height="16" fill="#fff"/>
<text x="0" y="-34" font-size="14" font-weight="bold" fill="#1e4fa0" text-anchor="middle">Вентилятор ВЦП110-43-5</text>
<text x="0" y="50" font-size="14" font-weight="bold" fill="#1e4fa0" text-anchor="middle">УКРВЕНТСИСТЕМИ</text>
</g>
<path d="M1209,2461V1948M1206,2458H1645" stroke="#111" stroke-width="4" fill="none"/>
<polygon points="1209,1918 1201,1951 1217,1951" fill="#111"/><polygon points="1674,2458 1644,2450 1644,2466" fill="#111"/>
<path d="M1202,1994h7M1202,2027h7M1202,2048h7M1202,2072h7M1202,2099h7M1202,2131h7M1202,2157h7M1202,2176h7M1202,2209h7M1202,2235h7M1202,2253h7M1202,2270h7M1202,2290h7M1202,2315h7M1202,2341h7M1202,2375h7M1202,2394h7M1202,2418h7M1202,2445h7M1225,2458v6M1252,2458v6M1289,2458v6M1329,2458v6M1361,2458v6M1390,2458v6M1432,2458v6M1468,2458v6M1494,2458v6M1516,2458v6M1536,2458v6M1575,2458v6M1602,2458v6M1636,2458v6" stroke="#111" stroke-width="1.5"/>
<g font-size="18" font-weight="bold" fill="#2b4a8e" text-anchor="end">
<text x="1195" y="2001">10000</text><text x="1195" y="2034">8000</text><text x="1195" y="2055">7000</text><text x="1195" y="2079">6000</text><text x="1195" y="2106">5000</text><text x="1195" y="2138">4000</text><text x="1195" y="2164">3400</text><text x="1195" y="2183">3000</text><text x="1195" y="2216">2400</text><text x="1195" y="2242">2000</text><text x="1195" y="2260">1800</text><text x="1195" y="2277">1600</text><text x="1195" y="2297">1400</text><text x="1195" y="2322">1200</text><text x="1195" y="2348">1000</text><text x="1195" y="2382">800</text><text x="1195" y="2401">700</text><text x="1195" y="2425">600</text><text x="1195" y="2452">500</text>
</g>
<g font-size="18" font-weight="bold" fill="#2b4a8e" text-anchor="middle">
<text x="1225" y="2482">1</text><text x="1252" y="2482">1,2</text><text x="1289" y="2482">1,5</text><text x="1329" y="2482">2</text><text x="1361" y="2482">2,5</text><text x="1390" y="2482">3</text><text x="1432" y="2482">4</text><text x="1468" y="2482">5</text><text x="1494" y="2482">6</text><text x="1516" y="2482">7</text><text x="1536" y="2482">8</text><text x="1575" y="2482">10</text><text x="1602" y="2482">12</text><text x="1636" y="2482">15</text>
</g>
<text x="1129" y="1956" font-size="21" font-weight="bold" fill="#2b4a8e">P<tspan font-size="13" dy="5">v</tspan><tspan dy="-5">, Па</tspan></text>
<text x="1524" y="2513" font-size="19" font-weight="bold" fill="#2b4a8e" textLength="135" lengthAdjust="spacingAndGlyphs">Q, 10³·м³/год</text>
<text x="1541" y="1950" font-size="25" font-weight="bold" fill="#111" textLength="72" lengthAdjust="spacingAndGlyphs">D=Dн</text>

<!-- ================= CHART 4 (D=1,05Dн) ================= -->
<rect x="1747" y="1958" width="409" height="504" fill="url(#gS)"/>
<text transform="translate(1935,2255) rotate(-39)" font-size="70" font-weight="bold" fill="#d8d8d8" text-anchor="middle" textLength="330" lengthAdjust="spacingAndGlyphs">ukrvent.ua</text>
<g stroke="#5aa13a" stroke-width="1.6" fill="none">
<path d="M1936,1980L1768,2316M1981,1992L1801,2352M2021,2006L1835,2378M2044,2018L1858,2390M2086,2055L1903,2420M2097,2075L1911,2446M2111,2095L1927,2462M2135,2091L1949,2462M2147,2115L1973,2462M2154,2141L1993,2462"/>
<path d="M2084,2006L1891,2398" stroke="#4c9f2e" stroke-width="5"/>
</g>
<g font-size="16" font-weight="bold" fill="#4a9a2d">
<text transform="translate(1940,1976) rotate(-63.4)">0,355</text><text transform="translate(1985,1988) rotate(-63.4)">0,445</text><text transform="translate(2025,2002) rotate(-63.4)">0,519</text><text transform="translate(2048,2014) rotate(-63.4)">0,565</text><text transform="translate(2088,2002) rotate(-63.4)">η=0,59</text><text transform="translate(2090,2051) rotate(-63.4)">0,577</text><text transform="translate(2101,2071) rotate(-63.4)">0,544</text><text transform="translate(2115,2091) rotate(-63.4)">0,505</text><text transform="translate(2139,2087) rotate(-63.4)">0,477</text><text transform="translate(2151,2111) rotate(-63.4)">0,437</text><text transform="translate(2158,2137) rotate(-63.4)">0,382</text>
</g>
<g fill="none" stroke="#2a4d8f" stroke-width="4">
<path d="M1927,2005 C2033,2016 2092,2105 2119,2187"/><path d="M1909,2037 C2016,2048 2077,2137 2104,2219"/><path d="M1902,2055 C2008,2066 2068,2154 2095,2235"/><path d="M1811,2233 C1918,2244 1979,2335 2006,2418"/><path d="M1797,2264 C1902,2275 1961,2364 1988,2446"/>
</g>
<g fill="none" stroke="#e31b23" stroke-width="6">
<path d="M1870,2117 C2039,2119 2082,2159 2111,2201"/><path d="M1759,2340 C1928,2342 1972,2382 2001,2424"/>
</g>
<g font-size="20" fill="#1f3c7a" text-anchor="end"><text x="1922" y="2008">30</text><text x="1906" y="2039">22</text><text x="1898" y="2058">18,5</text><text x="1808" y="2233">3</text><text x="1793" y="2256">N=2,2</text></g>
<g font-size="20" font-weight="bold" fill="#d9141c"><text x="1976" y="2123" text-anchor="middle">2940</text><text x="2116" y="2211">80,8</text><text x="1866" y="2349" text-anchor="middle" font-style="italic">n=1395</text><text x="2007" y="2432">U=38,3</text></g>
<g transform="translate(1820,2006) scale(0.53,0.6)">
<ellipse rx="100" ry="60" fill="#fff" stroke="#1e4fa0" stroke-width="6"/>
<path d="M-62,-12V12M-55,-10L-35,-18V18L-55,10Z" fill="#1e4fa0" stroke="#1e4fa0" stroke-width="4"/>
<rect x="-35" y="-26" width="50" height="52" rx="8" fill="#fff" stroke="#1e4fa0" stroke-width="5"/>
<rect x="-22" y="-26" width="7" height="52" fill="#1e4fa0"/><rect x="-5" y="-26" width="7" height="52" fill="#1e4fa0"/>
<rect x="20" y="-14" width="32" height="28" fill="#1e4fa0"/><rect x="27" y="-8" width="18" height="16" fill="#fff"/>
<text x="0" y="-34" font-size="14" font-weight="bold" fill="#1e4fa0" text-anchor="middle">Вентилятор ВЦП110-43-5</text>
<text x="0" y="50" font-size="14" font-weight="bold" fill="#1e4fa0" text-anchor="middle">УКРВЕНТСИСТЕМИ</text>
</g>
<path d="M1745,2465V1952M1742,2462H2156" stroke="#111" stroke-width="4" fill="none"/>
<polygon points="1745,1922 1737,1955 1753,1955" fill="#111"/><polygon points="2184,2462 2154,2454 2154,2470" fill="#111"/>
<path d="M1738,1983h7M1738,2010h7M1738,2043h7M1738,2063h7M1738,2087h7M1738,2114h7M1738,2146h7M1738,2171h7M1738,2190h7M1738,2223h7M1738,2249h7M1738,2266h7M1738,2282h7M1738,2304h7M1738,2326h7M1738,2353h7M1738,2386h7M1738,2406h7M1738,2429h7M1738,2456h7M1795,2462v6M1832,2462v6M1891,2462v6M1934,2462v6M1969,2462v6M1996,2462v6M2039,2462v6M2075,2462v6M2134,2462v6" stroke="#111" stroke-width="1.5"/>
<g font-size="18" font-weight="bold" fill="#2b4a8e" text-anchor="end">
<text x="1736" y="1990">12000</text><text x="1736" y="2017">10000</text><text x="1736" y="2050">8000</text><text x="1736" y="2070">7000</text><text x="1736" y="2094">6000</text><text x="1736" y="2121">5000</text><text x="1736" y="2153">4000</text><text x="1736" y="2178">3400</text><text x="1736" y="2197">3000</text><text x="1736" y="2230">2400</text><text x="1736" y="2256">2000</text><text x="1736" y="2273">1800</text><text x="1736" y="2289">1600</text><text x="1736" y="2311">1400</text><text x="1736" y="2333">1200</text><text x="1736" y="2360">1000</text><text x="1736" y="2393">800</text><text x="1736" y="2413">700</text><text x="1736" y="2436">600</text><text x="1736" y="2462">500</text>
</g>
<g font-size="18" font-weight="bold" fill="#2b4a8e" text-anchor="middle">
<text x="1795" y="2484">1,5</text><text x="1832" y="2484">2</text><text x="1891" y="2484">3</text><text x="1934" y="2484">4</text><text x="1969" y="2484">5</text><text x="1996" y="2484">6</text><text x="2039" y="2484">8</text><text x="2075" y="2484">10</text><text x="2134" y="2484">15</text>
</g>
<text x="1670" y="1952" font-size="21" font-weight="bold" fill="#2b4a8e">P<tspan font-size="13" dy="5">v</tspan><tspan dy="-5">, Па</tspan></text>
<text x="2041" y="2513" font-size="19" font-weight="bold" fill="#2b4a8e" textLength="136" lengthAdjust="spacingAndGlyphs">Q, 10³·м³/год</text>
<text x="2054" y="1948" font-size="25" font-weight="bold" fill="#111" textLength="127" lengthAdjust="spacingAndGlyphs">D=1,05Dн</text>

<!-- ================= CHART 5 (D=1,10Dн) ================= -->
<rect x="1493" y="2561" width="400" height="512" fill="url(#gS)"/>
<text transform="translate(1690,2815) rotate(-39)" font-size="70" font-weight="bold" fill="#d8d8d8" text-anchor="middle" textLength="330" lengthAdjust="spacingAndGlyphs">ukrvent.ua</text>
<g stroke="#5aa13a" stroke-width="1.6" fill="none">
<path d="M1682,2598L1498,2965M1720,2608L1536,2975M1751,2618L1565,2989M1772,2630L1588,2998M1820,2673L1635,3042M1833,2687L1647,3059M1866,2687L1673,3073M1879,2706L1695,3073M1889,2732L1718,3073M1895,2765L1741,3073"/>
<path d="M1811,2625L1614,3018" stroke="#4c9f2e" stroke-width="5"/>
</g>
<g font-size="17" font-weight="bold" fill="#4a9a2d">
<text transform="translate(1686,2594) rotate(-63.4)">0,392</text><text transform="translate(1724,2604) rotate(-63.4)">0,468</text><text transform="translate(1755,2614) rotate(-63.4)">0,53</text><text transform="translate(1776,2626) rotate(-63.4)">0,563</text><text transform="translate(1815,2621) rotate(-63.4)">η=0,594</text><text transform="translate(1824,2669) rotate(-63.4)">0,582</text><text transform="translate(1837,2683) rotate(-63.4)">0,563</text><text transform="translate(1870,2683) rotate(-63.4)">0,535</text><text transform="translate(1883,2702) rotate(-63.4)">0,502</text><text transform="translate(1893,2728) rotate(-63.4)">0,456</text><text transform="translate(1899,2761) rotate(-63.4)">0,398</text>
</g>
<g fill="none" stroke="#2a4d8f" stroke-width="4">
<path d="M1669,2628 C1772,2638 1830,2724 1856,2802"/><path d="M1652,2661 C1758,2673 1817,2767 1844,2853"/><path d="M1643,2679 C1749,2691 1808,2785 1835,2871"/><path d="M1564,2836 C1670,2848 1730,2942 1757,3028"/><path d="M1548,2867 C1654,2879 1713,2973 1740,3059"/>
</g>
<g fill="none" stroke="#e31b23" stroke-width="6">
<path d="M1619,2727 C1788,2729 1831,2772 1860,2817"/><path d="M1506,2953 C1675,2955 1718,2998 1747,3042"/>
</g>
<g font-size="20" font-weight="bold" fill="#1f3c7a" text-anchor="end"><text x="1665" y="2628">30</text><text x="1648" y="2660">22</text><text x="1637" y="2682">18,5</text><text x="1560" y="2838">4</text><text x="1545" y="2866">N=3</text></g>
<g font-size="20" font-weight="bold" fill="#d9141c"><text x="1707" y="2732" text-anchor="middle">2940</text><text x="1867" y="2826">84,7</text><text x="1598" y="2960" text-anchor="middle">n=1425</text><text x="1754" y="3050">U=41</text></g>
<g transform="translate(1560,2622) scale(0.54,0.58)">
<ellipse rx="100" ry="60" fill="#fff" stroke="#1e4fa0" stroke-width="6"/>
<path d="M-62,-12V12M-55,-10L-35,-18V18L-55,10Z" fill="#1e4fa0" stroke="#1e4fa0" stroke-width="4"/>
<rect x="-35" y="-26" width="50" height="52" rx="8" fill="#fff" stroke="#1e4fa0" stroke-width="5"/>
<rect x="-22" y="-26" width="7" height="52" fill="#1e4fa0"/><rect x="-5" y="-26" width="7" height="52" fill="#1e4fa0"/>
<rect x="20" y="-14" width="32" height="28" fill="#1e4fa0"/><rect x="27" y="-8" width="18" height="16" fill="#fff"/>
<text x="0" y="-34" font-size="14" font-weight="bold" fill="#1e4fa0" text-anchor="middle">Вентилятор ВЦП110-43-5</text>
<text x="0" y="50" font-size="14" font-weight="bold" fill="#1e4fa0" text-anchor="middle">УКРВЕНТСИСТЕМИ</text>
</g>
<path d="M1491,3076V2558M1488,3073H1895" stroke="#111" stroke-width="4" fill="none"/>
<polygon points="1491,2528 1483,2561 1499,2561" fill="#111"/><polygon points="1923,3073 1893,3065 1893,3081" fill="#111"/>
<path d="M1484,2580h7M1484,2605h7M1484,2631h7M1484,2666h7M1484,2687h7M1484,2711h7M1484,2740h7M1484,2775h7M1484,2801h7M1484,2821h7M1484,2855h7M1484,2882h7M1484,2900h7M1484,2918h7M1484,2939h7M1484,2964h7M1484,2991h7M1484,3025h7M1484,3046h7M1506,3073v6M1557,3073v6M1620,3073v6M1664,3073v6M1698,3073v6M1727,3073v6M1772,3073v6M1811,3073v6M1871,3073v6" stroke="#111" stroke-width="1.5"/>
<g font-size="19" font-weight="bold" fill="#2b4a8e" text-anchor="end">
<text x="1485" y="2587">14000</text><text x="1485" y="2612">12000</text><text x="1485" y="2638">10000</text><text x="1485" y="2673">8000</text><text x="1485" y="2694">7000</text><text x="1485" y="2718">6000</text><text x="1485" y="2747">5000</text><text x="1485" y="2782">4000</text><text x="1485" y="2808">3400</text><text x="1485" y="2828">3000</text><text x="1485" y="2862">2400</text><text x="1485" y="2889">2000</text><text x="1485" y="2907">1800</text><text x="1485" y="2925">1600</text><text x="1485" y="2946">1400</text><text x="1485" y="2971">1200</text><text x="1485" y="2998">1000</text><text x="1485" y="3032">800</text><text x="1485" y="3053">700</text>
</g>
<g font-size="19" font-weight="bold" fill="#2b4a8e" text-anchor="middle">
<text x="1506" y="3096">1,4</text><text x="1557" y="3096">2</text><text x="1620" y="3096">3</text><text x="1664" y="3096">4</text><text x="1698" y="3096">5</text><text x="1727" y="3096">6</text><text x="1772" y="3096">8</text><text x="1811" y="3096">10</text><text x="1871" y="3096">15</text>
</g>
<text x="1409" y="2553" font-size="21" font-weight="bold" fill="#2b4a8e">P<tspan font-size="13" dy="5">v</tspan><tspan dy="-5">, Па</tspan></text>
<text x="1800" y="3124" font-size="19" font-weight="bold" fill="#2b4a8e" textLength="134" lengthAdjust="spacingAndGlyphs">Q, 10³·м³/год</text>
<text x="1778" y="2553" font-size="25" font-weight="bold" fill="#111" textLength="126" lengthAdjust="spacingAndGlyphs">D=1,10Dн</text>

<!-- ================= FOOTER ================= -->
<g font-size="26" fill="#222">
<text x="159" y="3162" textLength="264" lengthAdjust="spacingAndGlyphs">УКРВЕНТСИСТЕМИ</text>
<text x="159" y="3194" textLength="196" lengthAdjust="spacingAndGlyphs">сайт:ukrvent.ua</text>
<text x="159" y="3225" textLength="327" lengthAdjust="spacingAndGlyphs">E-mail: zavod@ukrvent.ua</text>
<text x="2179" y="3162" text-anchor="end" textLength="192" lengthAdjust="spacingAndGlyphs">Відділ продажу</text>
<text x="2179" y="3194" text-anchor="end" textLength="395" lengthAdjust="spacingAndGlyphs">+38 (097) 699-14-81 - Київстар;</text>
<text x="2179" y="3225" text-anchor="end" textLength="465" lengthAdjust="spacingAndGlyphs">+38 (099) 199-69-06 - Vodofon (Viber)</text>
</g>
</svg>
</body></html>
